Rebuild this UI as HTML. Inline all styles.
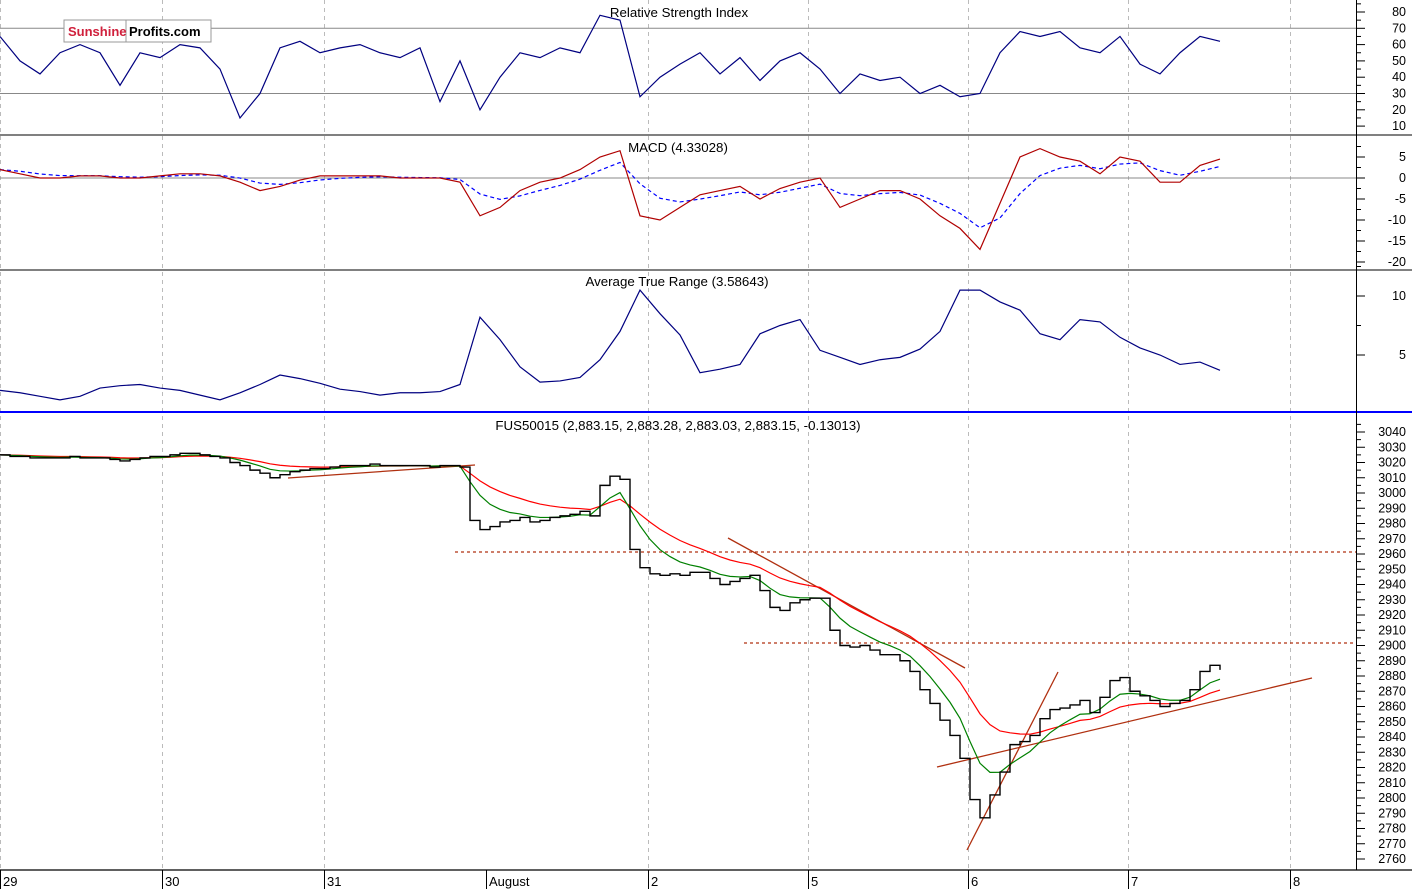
<!DOCTYPE html>
<html><head><meta charset="utf-8"><style>
html,body{margin:0;padding:0;background:#fff;}
svg{display:block;font-family:"Liberation Sans",sans-serif;}
</style></head><body>
<svg id="chart" width="1412" height="889" viewBox="0 0 1412 889" xmlns="http://www.w3.org/2000/svg">
<g id="grid"></g>
<g id="ind"></g>
<g id="price"></g>
<g id="axes"></g>
<g>
<rect x="64" y="20" width="147" height="22" fill="#fff" stroke="#999"/>
<line x1="126" y1="20" x2="126" y2="42" stroke="#999"/>
<text x="68" y="36" font-size="13" font-weight="bold" fill="#d0203c">Sunshine</text>
<text x="129" y="36" font-size="13" font-weight="bold" fill="#000">Profits.com</text>
</g>
<text x="679" y="17" font-size="13.3" text-anchor="middle">Relative Strength Index</text>
<text x="678" y="152" font-size="13.3" text-anchor="middle">MACD (4.33028)</text>
<text x="677" y="286" font-size="13.3" text-anchor="middle">Average True Range (3.58643)</text>
<text x="678" y="430" font-size="13.3" text-anchor="middle">FUS50015 (2,883.15, 2,883.28, 2,883.03, 2,883.15, -0.13013)</text>
</svg>
<script>
const prices=[3025,3024,3024,3023,3023,3023,3023,3024,3023,3023,
3023,3022,3021,3022,3023,3024,3024,3025,3026,3026,
3025,3024,3023,3020,3018,3015,3013,3010,3012,3014,
3015,3016,3016,3017,3018,3018,3018,3019,3018,3018,
3018,3018,3018,3017,3018,3018,3017,2982,2976,2978,
2981,2982,2984,2981,2982,2984,2985,2986,2988,2985,
3005,3011,3009,2963,2951,2947,2946,2947,2946,2948,
2948,2944,2940,2942,2944,2946,2936,2925,2923,2928,
2930,2931,2931,2910,2900,2899,2900,2897,2894,2894,
2890,2883,2871,2862,2851,2841,2826,2799,2787,2802,
2817,2835,2837,2841,2852,2858,2859,2861,2864,2856,
2866,2877,2879,2870,2867,2864,2860,2862,2864,2871,
2883,2887,2884];
const rsi=[65,50,42,55,60,55,35,55,52,60,58,45,15,30,58,62,55,58,60,55,52,58,25,50,20,40,55,52,58,55,78,75,28,40,48,55,42,52,38,50,55,45,30,42,38,40,30,35,28,30,55,68,65,68,58,55,65,48,42,55,65,62];
const macd=[2,1,0,0,0.5,0.5,0,0,0.5,1,1,0.5,-1,-3,-2,-0.5,0.5,0.5,0.5,0.5,0,0,0,-1,-9,-7,-3,-1,0,2,5,6.5,-9,-10,-7,-4,-3,-2,-5,-2.5,-1,0,-7,-5,-3,-3,-5,-9,-12,-17,-6,5,7,5,4,1,5,4,-1,-1,3,4.5];
const atr=[2,1.8,1.5,1.2,1.5,2.2,2.4,2.5,2.2,2,1.6,1.2,1.8,2.5,3.3,3,2.6,2.1,1.9,1.6,1.8,1.8,1.9,2.5,8.2,6.3,4,2.7,2.8,3.1,4.6,7,10.5,8.5,6.7,3.5,3.8,4.2,6.8,7.5,8,5.4,4.8,4.2,4.6,4.8,5.5,7,10.5,10.5,9.5,8.8,6.8,6.3,8,7.8,6.5,5.6,5,4.2,4.4,3.7];
const dayLabels=["29","30","31","August","2","5","6","7","8"];
const dayX=[0,162,324,486,648,808,968,1128,1290];
const rsiTicks=[10,20,30,40,50,60,70,80];
const macdTicks=[5,0,-5,-10,-15,-20];
const atrTicks=[10,5];
const priceTicks=[];for(let v=2760;v<=3040;v+=10)priceTicks.push(v);

const NS="http://www.w3.org/2000/svg";
function mk(tag,attrs,parent){const e=document.createElementNS(NS,tag);for(const k in attrs)e.setAttribute(k,attrs[k]);parent.appendChild(e);return e;}
const yP=v=>432+(3040-v)*1.525;
const yR=v=>12+(80-v)*1.63;
const yM=v=>178-v*4.2;
const yA=v=>355-(v-5)*11.8;
const xP=i=>i*10;
const xI=i=>i*20;
function ema(a,n){const k=2/(n+1);const o=[];a.forEach((v,i)=>o.push(i?o[i-1]+k*(v-o[i-1]):v));return o;}
const grid=document.getElementById('grid'),ind=document.getElementById('ind'),pr=document.getElementById('price'),ax=document.getElementById('axes');

dayX.forEach((x,i)=>{if(i===3)return;
const l=mk('line',{x1:x+0.5,y1:0,x2:x+0.5,y2:870,stroke:'#bbb','stroke-dasharray':'4,4'},grid);

});

[[70,yR],[30,yR],[0,yM]].forEach(([v,f])=>{const l=mk('line',{x1:0,y1:f(v),x2:1356,y2:f(v),stroke:'#888'},grid);

});

function poly(arr,xf,yf,attrs,parent,name,step){let d='';arr.forEach((v,i)=>{const x=xf(i),y=yf(v);if(step&&i){d+=' L'+x+','+yf(arr[i-1]);}d+=(i?' L':'M')+x+','+y;});
const p=mk('path',Object.assign({d:d,fill:'none'},attrs),parent);

return p;}

poly(rsi,xI,yR,{stroke:'#000080','stroke-width':1.2},ind,'rsi-line');
poly(ema(macd,4),xI,yM,{stroke:'#0000ff','stroke-width':1.2,'stroke-dasharray':'4,3'},ind,'macd-signal-line');
poly(macd,xI,yM,{stroke:'#b00000','stroke-width':1.2},ind,'macd-line');
poly(atr,xI,yA,{stroke:'#000080','stroke-width':1.2},ind,'atr-line');

[[455,552,1356,552,true],[744,643,1356,643,true],[728,538,965,668,false],[937,767,1312,678,false],[967,850,1058,672,false],[288,478,475,465,false]].forEach(a=>{
const l=mk('line',{x1:a[0],y1:a[1],x2:a[2],y2:a[3],stroke:'#b03010','stroke-width':1.3},pr);
if(a[4])l.setAttribute('stroke-dasharray','3,3');

});

poly(ema(prices,14),xP,yP,{stroke:'#ff0000','stroke-width':1.2},pr,'slow-moving-average');
poly(ema(prices,6),xP,yP,{stroke:'#008000','stroke-width':1.2},pr,'fast-moving-average');
poly(prices,xP,yP,{stroke:'#000','stroke-width':1.4},pr,'price-line',true);

[[135,'#000',1],[270,'#000',1],[412,'#0000ff',2],[870,'#000',1.2]].forEach(([y,c,w])=>{
const l=mk('line',{x1:0,y1:y,x2:1412,y2:y,stroke:c,'stroke-width':w},ax);

});
const va=mk('line',{x1:1356.5,y1:0,x2:1356.5,y2:870,stroke:'#000'},ax);



function ticks(vals,f,name,minorStep){vals.forEach(v=>{const y=f(v);
mk('line',{x1:1356,y1:y,x2:1365,y2:y,stroke:'#000'},ax);
const t=mk('text',{x:1406,y:y+4,'font-size':12.5,'text-anchor':'end'},ax);t.textContent=v;


if(minorStep){mk('line',{x1:1356,y1:f(v+minorStep),x2:1361,y2:f(v+minorStep),stroke:'#000'},ax);}});}
ticks(rsiTicks,yR,'rsi-tick-label',5);
ticks(macdTicks,yM,'macd-tick-label',2.5);
ticks(atrTicks,yA,'atr-tick-label',2.5);
ticks(priceTicks,yP,'price-tick-label',5);

dayLabels.forEach((s,i)=>{const x=dayX[i];
mk('line',{x1:x+0.5,y1:870,x2:x+0.5,y2:889,stroke:'#000'},ax);
const t=mk('text',{x:x+3,y:886,'font-size':13},ax);t.textContent=s;

});
</script>
</body></html>
